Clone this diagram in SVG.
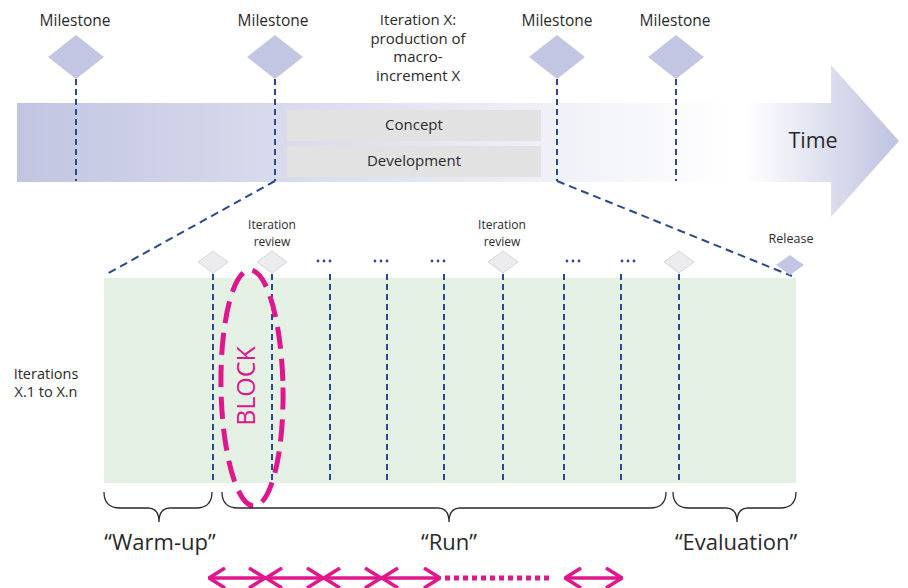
<svg xmlns="http://www.w3.org/2000/svg" width="908" height="588" viewBox="0 0 908 588">
  <defs>
    <linearGradient id="bandGrad" x1="17" y1="0" x2="735" y2="0" gradientUnits="userSpaceOnUse">
      <stop offset="0" stop-color="#c2c5e2"/>
      <stop offset="1" stop-color="#ffffff"/>
    </linearGradient>
    <linearGradient id="arrowGrad" x1="746" y1="0" x2="899" y2="0" gradientUnits="userSpaceOnUse">
      <stop offset="0" stop-color="#ffffff"/>
      <stop offset="1" stop-color="#bfc2e0"/>
    </linearGradient>
    <marker id="chev" viewBox="0 0 18 22" refX="17" refY="11" markerWidth="18" markerHeight="22" markerUnits="userSpaceOnUse" orient="auto-start-reverse">
      <path d="M1 1 L17 11 L1 21" fill="none" stroke="#e0168c" stroke-width="3.5" stroke-linejoin="miter" stroke-linecap="butt"/>
    </marker>
  </defs>
  <style>
    text { font-family: "Open Sans", "Liberation Sans", sans-serif; fill: #2a2a2a; }
    .ms { font-size: 15.5px; text-anchor: middle; }
    .sm { font-size: 12.5px; text-anchor: middle; }
    .rv { font-size: 12px; text-anchor: middle; }
    .phase { font-size: 22px; text-anchor: middle; }
    .milestone { fill: #c3c6e3; }
    .review { fill: #ececee; stroke: #d6d6d8; stroke-width: 1; }
    .dash { fill: none; stroke: #2b4a8d; stroke-width: 2; stroke-dasharray: 6 4; }
    .diag { fill: none; stroke: #2b4a8d; stroke-width: 2; stroke-dasharray: 8 5; }
    .brace { fill: none; stroke: #2a2a2a; stroke-width: 1.3; }
    .dots { fill: #2b4a8d; }
    .pink { fill: none; stroke: #e0168c; stroke-width: 3.5; }
    .box { fill: #e2e2e2; }
  </style>

  <!-- time band and arrow -->
  <g id="timeline">
    <rect x="17" y="103" width="718" height="79" fill="url(#bandGrad)"/>
    <polygon points="746,103 831,103 831,65 899,141 831,217 831,182 746,182" fill="url(#arrowGrad)"/>
    <text x="813" y="148" style="font-size:21.5px;text-anchor:middle">Time</text>
  </g>

  <!-- phase boxes -->
  <g id="concept">
    <rect class="box" x="287" y="110" width="254" height="31"/>
    <text x="414" y="130" class="ms" style="font-size:15px">Concept</text>
  </g>
  <g id="development">
    <rect class="box" x="287" y="146" width="254" height="31"/>
    <text x="414" y="166" class="ms" style="font-size:15px">Development</text>
  </g>

  <!-- iteration area -->
  <g id="iterations">
    <rect x="104" y="278" width="692" height="205" fill="#e5f0e4"/>
  </g>

  <!-- connectors -->
  <g id="connectors">
    <path class="dash" d="M76 79 V181"/>
    <path class="dash" d="M275 79 V181"/>
    <path class="dash" d="M557 79 V181"/>
    <path class="dash" d="M676 79 V181"/>
    <path class="diag" d="M275 181 L105 275"/>
    <path class="diag" d="M557 181 L792 276"/>
    <path class="dash" d="M213 274 V482"/>
    <path class="dash" d="M272 274 V482"/>
    <path class="dash" d="M330 274 V482"/>
    <path class="dash" d="M387 274 V482"/>
    <path class="dash" d="M444 274 V482"/>
    <path class="dash" d="M503 274 V482"/>
    <path class="dash" d="M564 274 V482"/>
    <path class="dash" d="M621 274 V482"/>
    <path class="dash" d="M679 274 V482"/>
  </g>

  <!-- milestones -->
  <g id="milestone1">
    <polygon class="milestone" points="76,35 104,57 76,79 48,57"/>
    <text x="75" y="26" class="ms">Milestone</text>
  </g>
  <g id="milestone2">
    <polygon class="milestone" points="275,35 303,57 275,79 247,57"/>
    <text x="273" y="26" class="ms">Milestone</text>
  </g>
  <g id="iteration-x">
    <text class="ms" style="font-size:15px"><tspan x="418" y="25">Iteration X:</tspan><tspan x="418" y="43.5">production of</tspan><tspan x="418" y="62">macro-</tspan><tspan x="418" y="80.5">increment X</tspan></text>
  </g>
  <g id="milestone3">
    <polygon class="milestone" points="557,35 585,57 557,79 529,57"/>
    <text x="557" y="26" class="ms">Milestone</text>
  </g>
  <g id="milestone4">
    <polygon class="milestone" points="676,35 704,57 676,79 648,57"/>
    <text x="675" y="26" class="ms">Milestone</text>
  </g>

  <!-- iteration reviews -->
  <g id="review1">
    <polygon class="review" points="213,251 228,262 213,273 198,262"/>
  </g>
  <g id="review2">
    <polygon class="review" points="272,251 287,262 272,273 257,262"/>
    <text class="rv"><tspan x="272" y="229">Iteration</tspan><tspan x="272" y="245.5">review</tspan></text>
  </g>
  <g id="review3">
    <polygon class="review" points="503,251 518,262 503,273 488,262"/>
    <text class="rv"><tspan x="502" y="229">Iteration</tspan><tspan x="502" y="245.5">review</tspan></text>
  </g>
  <g id="review4">
    <polygon class="review" points="679,251 694,262 679,273 664,262"/>
  </g>
  <g id="release">
    <polygon class="milestone" points="790,255 804,265 790,275 776,265"/>
    <text x="791" y="243" class="sm">Release</text>
  </g>

  <!-- ellipsis markers between reviews -->
  <g id="ellipses" class="dots">
    <circle cx="318" cy="261" r="1.4"/><circle cx="324" cy="261" r="1.4"/><circle cx="330" cy="261" r="1.4"/>
    <circle cx="375" cy="261" r="1.4"/><circle cx="381" cy="261" r="1.4"/><circle cx="387" cy="261" r="1.4"/>
    <circle cx="432" cy="261" r="1.4"/><circle cx="438" cy="261" r="1.4"/><circle cx="444" cy="261" r="1.4"/>
    <circle cx="567" cy="261" r="1.4"/><circle cx="573" cy="261" r="1.4"/><circle cx="579" cy="261" r="1.4"/>
    <circle cx="622" cy="261" r="1.4"/><circle cx="628" cy="261" r="1.4"/><circle cx="634" cy="261" r="1.4"/>
  </g>

  <g id="iterations-label">
    <text class="ms" style="font-size:14.5px"><tspan x="46" y="379">Iterations</tspan><tspan x="46" y="397">X.1 to X.n</tspan></text>
  </g>

  <!-- block -->
  <g id="block">
    <ellipse cx="252" cy="388" rx="31" ry="118" fill="none" stroke="#e0168c" stroke-width="5" stroke-dasharray="22 10" transform="rotate(-1 252 388)"/>
    <text x="0" y="0" transform="translate(255 386) rotate(-90)" style="font-size:25px;text-anchor:middle;fill:#e0168c">BLOCK</text>
  </g>

  <!-- phase braces -->
  <g id="warm-up">
    <path class="brace" d="M104 492 Q104 508 120 508 H148 Q159 508 159 522 Q159 508 170 508 H196 Q212 508 212 492"/>
    <text x="160" y="550" class="phase">“Warm-up”</text>
  </g>
  <g id="run">
    <path class="brace" d="M222 492 Q222 508 238 508 H438 Q449 508 449 522 Q449 508 460 508 H650 Q666 508 666 492"/>
    <text x="449" y="550" class="phase">“Run”</text>
  </g>
  <g id="evaluation">
    <path class="brace" d="M673 492 Q673 508 689 508 H726 Q737 508 737 522 Q737 508 748 508 H780 Q796 508 796 492"/>
    <text x="736" y="550" class="phase">“Evaluation”</text>
  </g>

  <!-- iteration cadence -->
  <g id="cadence">
    <path class="pink" d="M209 578 H265" marker-start="url(#chev)" marker-end="url(#chev)"/>
    <path class="pink" d="M266 578 H323" marker-start="url(#chev)" marker-end="url(#chev)"/>
    <path class="pink" d="M324 578 H381" marker-start="url(#chev)" marker-end="url(#chev)"/>
    <path class="pink" d="M382 578 H440" marker-start="url(#chev)" marker-end="url(#chev)"/>
    <path d="M445 578 H549" fill="none" stroke="#e0168c" stroke-width="5" stroke-dasharray="5 4"/>
    <path class="pink" d="M565 578 H622" marker-start="url(#chev)" marker-end="url(#chev)"/>
  </g>
</svg>
